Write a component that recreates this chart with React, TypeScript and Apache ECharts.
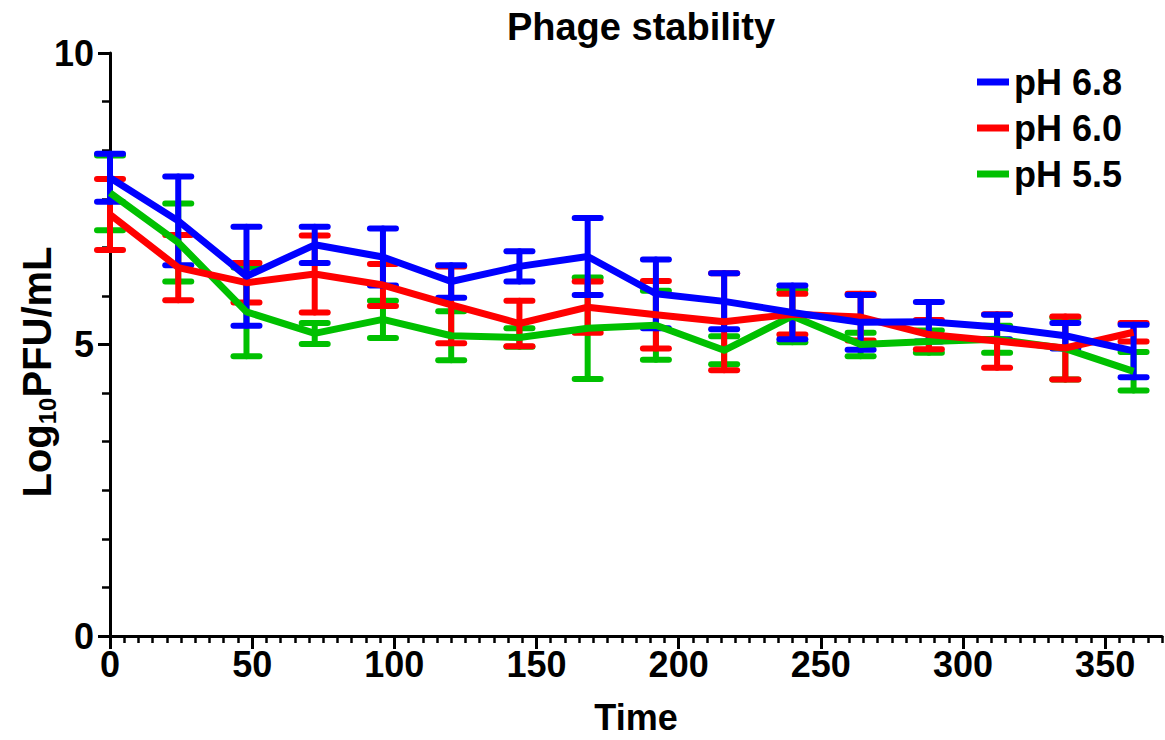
import React, { useEffect, useRef } from "react";
import * as echarts from "echarts";

const times = [0, 24, 48, 72, 96, 120, 144, 168, 192, 216, 240, 264, 288, 312, 336, 360];

const ph68Mean = [7.86, 7.12, 6.17, 6.71, 6.5, 6.08, 6.34, 6.51, 5.87, 5.74, 5.55, 5.38, 5.39, 5.3, 5.15, 4.89];
const ph68Err = [0.41, 0.76, 0.85, 0.31, 0.49, 0.28, 0.26, 0.66, 0.59, 0.48, 0.46, 0.47, 0.34, 0.21, 0.22, 0.45];

const ph60Mean = [7.23, 6.32, 6.06, 6.21, 6.02, 5.68, 5.36, 5.64, 5.51, 5.39, 5.52, 5.47, 5.17, 5.06, 4.94, 5.21];
const ph60Err = [0.61, 0.56, 0.34, 0.66, 0.36, 0.66, 0.39, 0.44, 0.58, 0.83, 0.35, 0.4, 0.25, 0.46, 0.54, 0.16];

const ph55Mean = [7.6, 6.75, 5.56, 5.19, 5.43, 5.15, 5.12, 5.28, 5.33, 4.9, 5.49, 5.0, 5.05, 5.09, 4.93, 4.54];
const ph55Err = [0.64, 0.67, 0.76, 0.18, 0.32, 0.42, 0.16, 0.87, 0.59, 0.24, 0.45, 0.2, 0.19, 0.23, 0.53, 0.33];

const xMajorTicks = [0, 50, 100, 150, 200, 250, 300, 350];
const seriesNames = ["pH 6.8", "pH 6.0", "pH 5.5"];
const seriesColors = ["#0000FF", "#FF0000", "#00C000"];

const FONT = "'Liberation Sans', Arial, Helvetica, sans-serif";

function lineData(means: number[]) {
  return times.map((t, i) => [t, means[i]]);
}
function errData(means: number[], errs: number[]) {
  return times.map((t, i) => [t, means[i] - errs[i], means[i] + errs[i]]);
}

function errorSeries(name: string, color: string, means: number[], errs: number[]) {
  return {
    type: "custom",
    name,
    xAxisIndex: 0,
    yAxisIndex: 0,
    data: errData(means, errs),
    encode: { x: 0, y: [1, 2] },
    clip: false,
    silent: true,
    renderItem: (_params: any, api: any) => {
      const x = api.value(0);
      const lo = api.coord([x, api.value(1)]);
      const hi = api.coord([x, api.value(2)]);
      const w = 13;
      const style = { stroke: color, lineWidth: 6, lineCap: "round" };
      return {
        type: "group",
        children: [
          { type: "line", shape: { x1: lo[0], y1: lo[1], x2: hi[0], y2: hi[1] }, style },
          { type: "line", shape: { x1: lo[0] - w, y1: lo[1], x2: lo[0] + w, y2: lo[1] }, style },
          { type: "line", shape: { x1: hi[0] - w, y1: hi[1], x2: hi[0] + w, y2: hi[1] }, style },
        ],
      };
    },
  };
}

function lineSeries(name: string, color: string, means: number[]) {
  return {
    type: "line",
    name,
    xAxisIndex: 0,
    yAxisIndex: 0,
    data: lineData(means),
    showSymbol: false,
    symbol: "none",
    clip: false,
    lineStyle: { color, width: 7, join: "round" },
    itemStyle: { color },
  };
}

export default function App() {
  const ref = useRef<HTMLDivElement>(null);
  useEffect(() => {
    document.body.style.margin = "0";
    if (!ref.current) return;
    const chart = echarts.init(ref.current, undefined, { renderer: "svg" });
    const option: any = {
      animation: false,
      backgroundColor: "#ffffff",
      title: {
        text: "Phage stability",
        left: 636,
        top: 3,
        textAlign: "center",
        textStyle: { fontFamily: FONT, fontWeight: "bold", fontSize: 38, color: "#000" },
      },
      legend: {
        orient: "vertical",
        left: 972,
        top: 59,
        icon: "rect",
        itemWidth: 32,
        itemHeight: 7,
        itemGap: 10,
        data: seriesNames,
        textStyle: { fontFamily: FONT, fontWeight: "bold", fontSize: 36, color: "#000" },
      },
      grid: { left: 110, right: 3, top: 53, bottom: 104, containLabel: false, outerBoundsMode: "none" },
      xAxis: [
        {
          type: "value",
          position: "bottom",
          min: 0,
          max: 370,
          interval: 50,
          name: "Time",
          nameLocation: "middle",
          nameGap: 63,
          nameTextStyle: { fontFamily: FONT, fontWeight: "bold", fontSize: 36, color: "#000" },
          axisLine: { show: true, onZero: false, lineStyle: { color: "#000", width: 3 } },
          axisTick: { show: true, length: 13, customValues: xMajorTicks, lineStyle: { color: "#000", width: 3 } },
          axisLabel: {
            customValues: xMajorTicks,
            margin: 10,
            fontFamily: FONT,
            fontWeight: "bold",
            fontSize: 36,
            color: "#000",
          },
          splitLine: { show: false },
        },
        {
          type: "value",
          position: "bottom",
          min: 0,
          max: 370,
          interval: 5,
          axisLine: { show: false },
          axisTick: { show: true, length: 7, lineStyle: { color: "#000", width: 2.5 } },
          axisLabel: { show: false },
          splitLine: { show: false },
        },
      ],
      yAxis: {
        type: "value",
        min: 0,
        max: 10,
        interval: 5,
        axisLine: { show: true, onZero: false, lineStyle: { color: "#000", width: 3 } },
        axisTick: { show: true, length: 12, lineStyle: { color: "#000", width: 3 } },
        minorTick: { show: true, splitNumber: 6, length: 8, lineStyle: { color: "#000", width: 2.5 } },
        axisLabel: { margin: 16, fontFamily: FONT, fontWeight: "bold", fontSize: 36, color: "#000" },
        splitLine: { show: false },
        minorSplitLine: { show: false },
      },
      graphic: [
        {
          type: "text",
          x: 37,
          y: 372,
          rotation: Math.PI / 2,
          style: {
            text: "{b|Log}{s|10}{b|PFU/mL}",
            align: "center",
            verticalAlign: "middle",
            rich: {
              b: { fontFamily: FONT, fontWeight: "bold", fontSize: 40, lineHeight: 44, fill: "#000", verticalAlign: "middle" },
              s: { fontFamily: FONT, fontWeight: "bold", fontSize: 24, lineHeight: 24, fill: "#000", verticalAlign: "bottom" },
            },
          },
        },
      ],
      series: [
        lineSeries(seriesNames[2], seriesColors[2], ph55Mean),
        errorSeries(seriesNames[2], seriesColors[2], ph55Mean, ph55Err),
        lineSeries(seriesNames[1], seriesColors[1], ph60Mean),
        errorSeries(seriesNames[1], seriesColors[1], ph60Mean, ph60Err),
        lineSeries(seriesNames[0], seriesColors[0], ph68Mean),
        errorSeries(seriesNames[0], seriesColors[0], ph68Mean, ph68Err),
      ],
    };
    chart.setOption(option);
    return () => chart.dispose();
  }, []);
  return <div ref={ref} style={{ width: 1165, height: 740 }} />;
}
